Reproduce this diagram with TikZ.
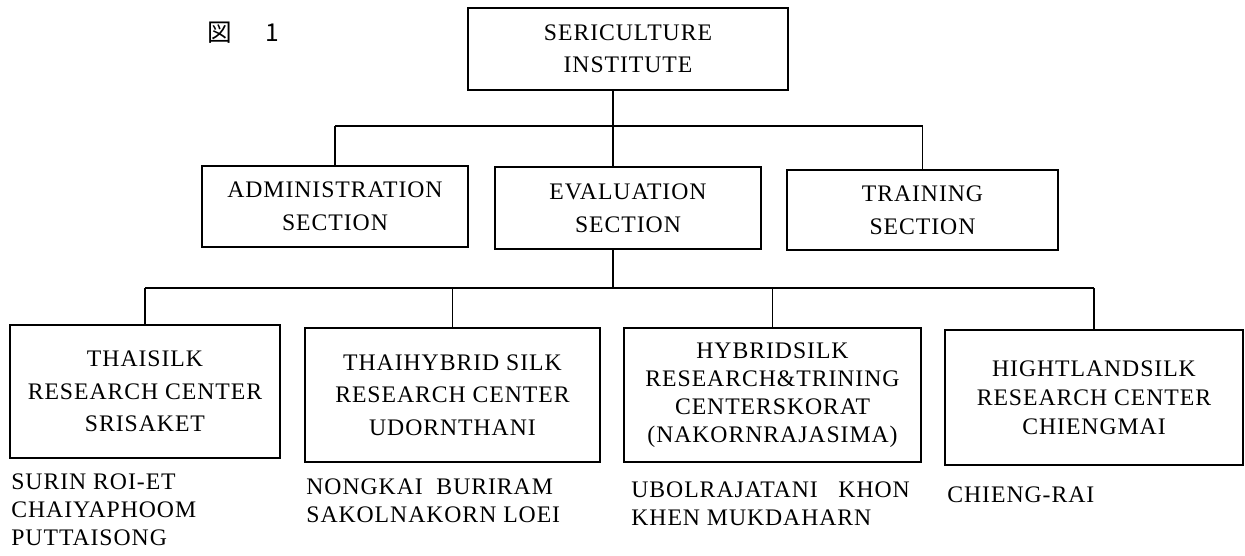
\documentclass[tikz,border=0pt]{standalone}
\usepackage{fontspec}
\setmainfont{Liberation Serif}[LetterSpace=4]
\newfontfamily\jpfont{Noto Sans CJK JP}
\usetikzlibrary{positioning}

\begin{document}
\begin{tikzpicture}[
    unitbox/.style={draw=black, line width=1.1pt, align=center, inner sep=0pt,
        font=\fontsize{13.5}{18.5}\selectfont},
    place/.style={align=left, inner sep=0pt,
        font=\fontsize{13.5}{16.2}\selectfont},
    bus/.style={line width=0.6pt},
    trunk/.style={line width=1.1pt}
    ]
    % 1px of the page = 0.02cm
    \useasboundingbox (0,0) rectangle (24.9,-11.1);

    \coordinate (spine) at (12.26,0);
    \coordinate (upbus) at (0,-2.52);
    \coordinate (lowbus) at (0,-5.76);

    \node[anchor=west, font=\jpfont\fontsize{14}{14}\selectfont] (fig) at (4.02,-0.66) {図\hspace{0.68cm}1};

    \node[unitbox, minimum width=6.4cm, minimum height=1.64cm] (inst) at (12.56,-0.98) {SERICULTURE\\INSTITUTE};
    \node[unitbox, minimum width=5.32cm, minimum height=1.62cm] (admin) at (6.70,-4.13) {ADMINISTRATION\\SECTION};
    \node[unitbox, minimum width=5.32cm, minimum height=1.64cm] (eval) at (12.56,-4.16) {EVALUATION\\SECTION};
    \node[unitbox, minimum width=5.42cm, minimum height=1.60cm] (train) at (18.45,-4.2) {TRAINING\\SECTION};

    \node[unitbox, minimum width=5.4cm, minimum height=2.66cm] (thai) at (2.9,-7.83) {THAISILK\\RESEARCH CENTER\\SRISAKET};
    \node[unitbox, minimum width=5.9cm, minimum height=2.68cm] (hybrid) at (9.05,-7.9) {THAIHYBRID SILK\\RESEARCH CENTER\\UDORNTHANI};
    \node[unitbox, minimum width=5.94cm, minimum height=2.68cm, font=\fontsize{13.5}{16}\selectfont] (korat) at (15.45,-7.9) {HYBRIDSILK\\RESEARCH\&TRINING\\CENTERSKORAT\\(NAKORNRAJASIMA)};
    \node[unitbox, minimum width=5.96cm, minimum height=2.7cm, font=\fontsize{13.5}{16.5}\selectfont] (high) at (21.88,-7.95) {HIGHTLANDSILK\\RESEARCH CENTER\\CHIENGMAI};

    \node[place, below=0.28cm of thai.south west, anchor=north west, xshift=0.04cm] (thainote) {SURIN ROI-ET\\CHAIYAPHOOM\\PUTTAISONG};
    \node[place, below=0.3cm of hybrid.south west, anchor=north west, xshift=0.04cm] (hybridnote) {NONGKAI\ \ BURIRAM\\SAKOLNAKORN LOEI};
    \node[place, below=0.36cm of korat.south west, anchor=north west, xshift=0.16cm] (koratnote) {UBOLRAJATANI\ \ \ KHON\\KHEN MUKDAHARN};
    \node[place, below=0.4cm of high.south west, anchor=north west, xshift=0.06cm] (highnote) {CHIENG-RAI};

    \draw[trunk] (inst.south -| spine) -- (upbus -| spine);
    \draw[bus] (admin.north |- upbus) -- (train.north |- upbus);
    \draw[trunk] (eval.north -| spine) -- (upbus -| spine);
    \foreach \v in {admin,train}
        \draw[bus] (\v.north) -- (\v.north |- upbus);

    \draw[trunk] (eval.south -| spine) -- (lowbus -| spine);
    \draw[bus] (thai.north |- lowbus) -- (high.north |- lowbus);
    \foreach \v in {thai,hybrid,korat,high}
        \draw[bus] (\v.north) -- (\v.north |- lowbus);
\end{tikzpicture}
\end{document}
